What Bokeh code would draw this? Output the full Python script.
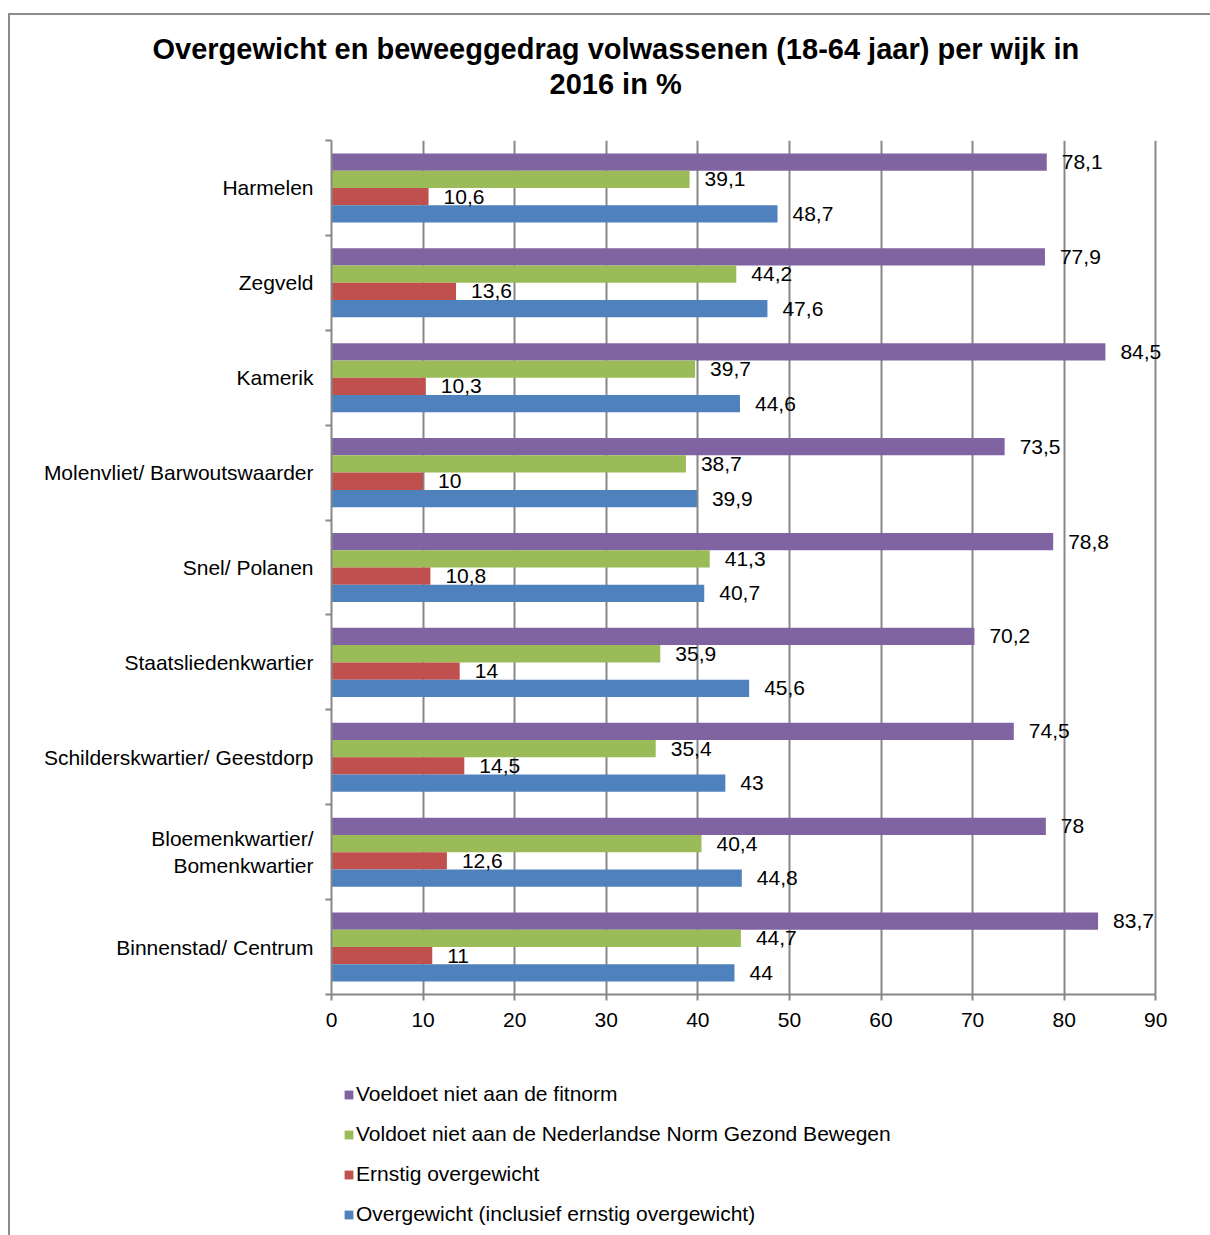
import numpy as np
from bokeh.plotting import figure
from bokeh.layouts import column
from bokeh.models import (Range1d, FixedTicker, ColumnDataSource, LabelSet, Title,
                          Legend, LegendItem)
from bokeh.core.properties import value
from bokeh.transform import dodge
from bokeh.embed import file_html
from bokeh.resources import INLINE

# ---- data ----
wijken = ["Harmelen", "Zegveld", "Kamerik", "Molenvliet/ Barwoutswaarder",
          "Snel/ Polanen", "Staatsliedenkwartier", "Schilderskwartier/ Geestdorp",
          "Bloemenkwartier/\nBomenkwartier", "Binnenstad/ Centrum"]
fitnorm = [78.1, 77.9, 84.5, 73.5, 78.8, 70.2, 74.5, 78.0, 83.7]
nngb = [39.1, 44.2, 39.7, 38.7, 41.3, 35.9, 35.4, 40.4, 44.7]
ernstig = [10.6, 13.6, 10.3, 10.0, 10.8, 14.0, 14.5, 12.6, 11.0]
overgewicht = [48.7, 47.6, 44.6, 39.9, 40.7, 45.6, 43.0, 44.8, 44.0]
series_names = ["Voeldoet niet aan de fitnorm",
                "Voldoet niet aan de Nederlandse Norm Gezond Bewegen",
                "Ernstig overgewicht",
                "Overgewicht (inclusief ernstig overgewicht)"]
x_ticks = [0, 10, 20, 30, 40, 50, 60, 70, 80, 90]
title_lines = ["Overgewicht en beweeggedrag volwassenen (18-64 jaar) per wijk in",
               "2016 in %"]

# ---- style ----
colors = ["#8064A2", "#9BBB59", "#C0504D", "#4F81BD"]
FONT = "Liberation Sans"
GRAY = "#878787"
bar_h = 0.182
offsets = [-1.5 * bar_h, -0.5 * bar_h, 0.5 * bar_h, 1.5 * bar_h]

n = len(wijken)
centers = np.arange(n) + 0.5

# x range runs a little past 90 so that value labels near 90 are not clipped;
# the axis line itself is bounded to 0..90
p = figure(width=1200, height=1030, x_range=Range1d(0, 91.5), y_range=Range1d(n, 0),
           output_backend="svg", toolbar_location=None,
           min_border_left=321, min_border_right=41, min_border_top=125,
           min_border_bottom=51)
p.outline_line_color = None
p.background_fill_color = "white"
p.border_fill_color = "white"

for vals, col, off in zip([fitnorm, nngb, ernstig, overgewicht], colors, offsets):
    labs = [f"{v:g}".replace(".", ",") for v in vals]
    src = ColumnDataSource(dict(y=centers, v=vals, lab=labs))
    p.hbar(y=dodge("y", off, range=p.y_range), left=0, right="v", height=bar_h,
           source=src, fill_color=col, line_color=None)
    ls = LabelSet(x="v", y=dodge("y", off, range=p.y_range), text="lab", source=src,
                  x_offset=15, text_baseline="middle", text_align="left",
                  text_font=value(FONT), text_font_size=value("21px"),
                  text_color="black")
    p.add_layout(ls)

# axes
p.xaxis.ticker = FixedTicker(ticks=x_ticks)
p.xaxis.bounds = (0, 90)
p.xaxis.axis_line_color = GRAY
p.xaxis.axis_line_width = 2
p.xaxis.major_tick_line_color = GRAY
p.xaxis.major_tick_line_width = 2
p.xaxis.major_tick_out = 6
p.xaxis.major_tick_in = 0
p.xaxis.minor_tick_line_color = None
p.xaxis.major_label_text_font = FONT
p.xaxis.major_label_text_font_size = "21px"
p.xaxis.major_label_text_color = "black"
p.xaxis.major_label_standoff = 12

p.yaxis.ticker = FixedTicker(ticks=list(centers), minor_ticks=list(range(n + 1)))
p.yaxis.major_label_overrides = {float(c): w for c, w in zip(centers, wijken)}
p.yaxis.axis_line_color = GRAY
p.yaxis.axis_line_width = 2
p.yaxis.major_tick_line_color = None
p.yaxis.major_tick_out = 0
p.yaxis.major_tick_in = 0
p.yaxis.minor_tick_line_color = GRAY
p.yaxis.minor_tick_line_width = 2
p.yaxis.minor_tick_out = 6
p.yaxis.minor_tick_in = 0
p.yaxis.major_label_text_font = FONT
p.yaxis.major_label_text_font_size = "21px"
p.yaxis.major_label_text_color = "black"
p.yaxis.major_label_standoff = 12

p.xgrid.grid_line_color = GRAY
p.xgrid.grid_line_width = 2
p.ygrid.visible = False

# title: two lines, each its own Title in the "above" panel, plus a spacer
spacer = Title(text=" ", text_font_size="10px", standoff=26)
t2 = Title(text=title_lines[1], align="left", offset=218, text_font=FONT,
           text_font_style="bold", text_font_size="29px", text_color="black",
           standoff=3)
t1 = Title(text=title_lines[0], align="left", offset=-179, text_font=FONT,
           text_font_style="bold", text_font_size="29px", text_color="black",
           standoff=0)
p.add_layout(spacer, "above")
p.add_layout(t2, "above")
p.add_layout(t1, "above")

# legend lives in its own strip below the chart (frame aligned with the chart's)
q = figure(width=1200, height=190, x_range=Range1d(0, 1), y_range=Range1d(0, 1),
           output_backend="svg", toolbar_location=None,
           x_axis_location=None, y_axis_location=None,
           min_border_left=0, min_border_right=0, min_border_top=0, min_border_bottom=0)
q.outline_line_color = None
q.xgrid.visible = False
q.ygrid.visible = False
# zero-length swatch renderers, only used to give the legend its colours
leg_renderers = [q.hbar(y=[0.5], right=[0], left=0, height=0.1, fill_color=c,
                        line_color=None) for c in colors]
legend = Legend(items=[LegendItem(label=nm, renderers=[r])
                       for nm, r in zip(series_names, leg_renderers)],
                location=(12, 9), orientation="vertical", glyph_width=11, glyph_height=11,
                label_height=24, spacing=16, padding=0, margin=0, border_line_alpha=0,
                background_fill_alpha=0, label_standoff=2, label_text_font=FONT,
                label_text_font_size="21px", label_text_color="black")
q.add_layout(legend)

layout = column(p, q, spacing=0,
                styles={"margin-left": "8px", "margin-top": "13px",
                        "border-left": "2px solid #8c8c8c",
                        "border-top": "2px solid #8c8c8c"})

open("out.html", "w").write(file_html(layout, INLINE))
